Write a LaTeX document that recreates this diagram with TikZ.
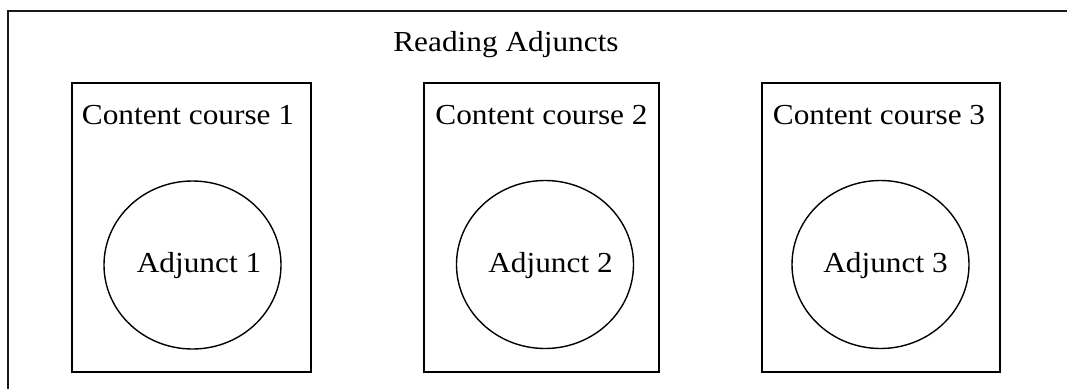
\documentclass[tikz,border=0pt]{standalone}
\usepackage{fontspec}
\setmainfont{Liberation Serif}
\usetikzlibrary{shapes.geometric}
\begin{document}
\begin{tikzpicture}[x=1pt,y=-1pt,
  frame/.style={line width=1.6pt,draw=black!90},
  coursebox/.style={draw,line width=1.6pt,rectangle,inner sep=0pt,minimum height=289pt},
  adjcircle/.style={draw,line width=1.4pt,ellipse,inner sep=0pt,minimum width=177pt,minimum height=168pt},
  lbl/.style={anchor=base,inner sep=0pt,font=\fontsize{29}{34}\selectfont,xscale=1.08,transform shape}]
\clip (0,0) rectangle (1067,388);
\fill[white] (0,0) rectangle (1067,388);
\draw[frame] (8,420) -- (8,11) -- (1100,11);
\node[lbl] (title) at (506,51.7) {Reading Adjuncts};
\node[coursebox,minimum width=239pt] (c1) at (191.5,227.5) {};
\node[coursebox,minimum width=235pt] (c2) at (541.5,227.5) {};
\node[coursebox,minimum width=238pt] (c3) at (881,227.5) {};
\node[lbl] (t1) at (188,124) {Content course 1};
\node[lbl] (t2) at (541.5,124) {Content course 2};
\node[lbl] (t3) at (879,124) {Content course 3};
\node[adjcircle] (a1) at (192.5,265) {};
\node[adjcircle] (a2) at (545,264.5) {};
\node[adjcircle] (a3) at (880.5,264.5) {};
\node[lbl] (l1) at (199,272) {Adjunct 1};
\node[lbl] (l2) at (550.5,272) {Adjunct 2};
\node[lbl] (l3) at (885.5,272) {Adjunct 3};
\end{tikzpicture}
\end{document}
